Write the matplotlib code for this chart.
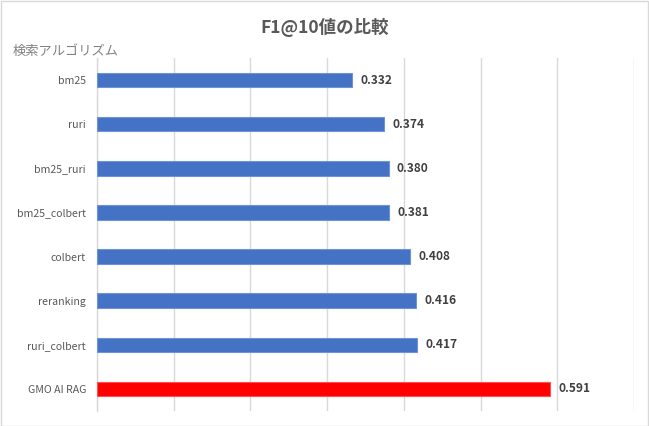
import matplotlib
matplotlib.use("Agg")
import matplotlib.pyplot as plt
from matplotlib.patches import Rectangle

categories = ["bm25", "ruri", "bm25_ruri", "bm25_colbert", "colbert",
              "reranking", "ruri_colbert", "GMO AI RAG"]
values = [0.332, 0.374, 0.380, 0.381, 0.408, 0.416, 0.417, 0.591]
bar_colors = ["#4472C4"] * 7 + ["#FF0000"]
x_ticks = [0.0, 0.1, 0.2, 0.3, 0.4, 0.5, 0.6, 0.7]

plt.rcParams['font.family'] = ['Noto Sans CJK JP', 'DejaVu Sans']

fig = plt.figure(figsize=(6.49, 4.26), dpi=100)
ax = fig.add_axes([97/649, 1-411/426, (634-97)/649, (411-58)/426])

ypos = list(range(len(categories)))
edge = ["#6E93D6"] * 7 + ["#FF5050"]
ax.barh(ypos, values, height=0.33, color=bar_colors, edgecolor=edge, linewidth=0.8, zorder=3)
ax.set_ylim(len(categories) - 0.5, -0.5)
ax.set_xlim(0, 0.7)
ax.set_xticks(x_ticks)
ax.set_xticklabels([])
ax.tick_params(axis='x', length=0)
ax.tick_params(axis='y', length=0, pad=8, labelsize=7.6, labelcolor="#595959")
ax.set_yticks(ypos)
ax.set_yticklabels(categories)
ax.grid(axis='x', color="#D9D9D9", linewidth=1, zorder=0)
for s in ["top", "right", "bottom"]:
    ax.spines[s].set_visible(False)
ax.spines["left"].set_color("#D9D9D9")
ax.spines["left"].set_linewidth(1)

for y, v in zip(ypos, values):
    ax.annotate(f"{v:.3f}", xy=(v, y), xytext=(6, 0), textcoords="offset points",
                va="center", ha="left", fontsize=8.6, fontweight="bold", color="#404040")

fig.text(0.5, 1-27/426, "F1@10値の比較", ha="center", va="center", fontsize=12.6,
         fontweight="bold", color="#595959")
fig.text(13/649, 1-51/426, "検索アルゴリズム", ha="left", va="center", fontsize=9.5,
         color="#808080")

fig.patches.append(Rectangle((0.5/649, 0.5/426), 1-1.5/649, 1-1.5/426, transform=fig.transFigure,
                             fill=False, edgecolor="#D9D9D9", linewidth=1))

fig.savefig("out.png", dpi=100)
